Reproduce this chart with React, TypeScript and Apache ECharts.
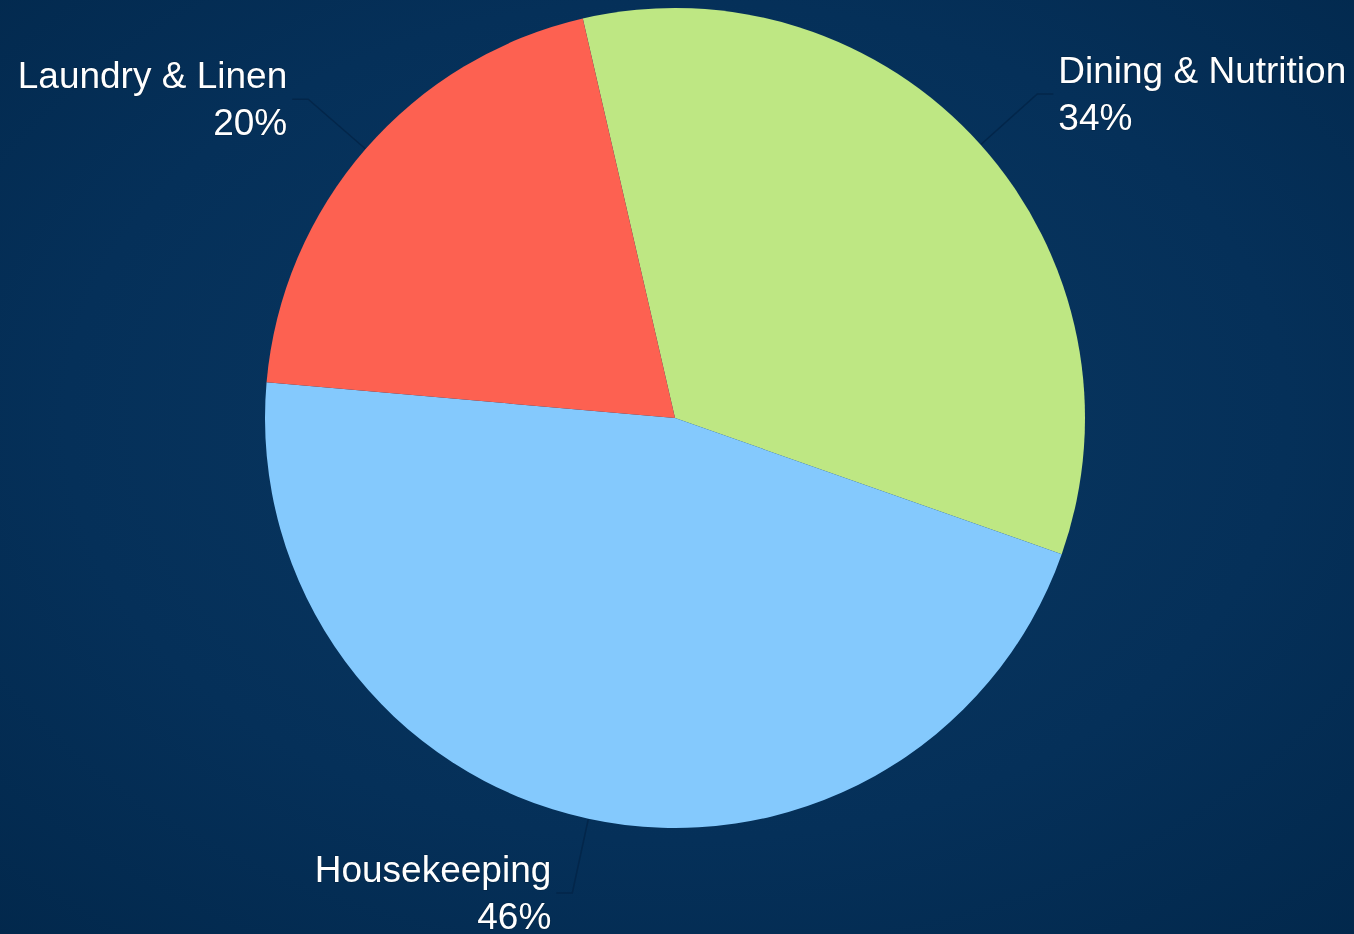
import React, { useEffect, useRef } from "react";
import * as echarts from "echarts";

const categories = ["Dining & Nutrition", "Housekeeping", "Laundry & Linen"];
const values = [34, 46, 20];
const colors = ["#bee783", "#84c9fd", "#fd6151"];

export default function App() {
  const ref = useRef<HTMLDivElement>(null);
  useEffect(() => {
    if (!ref.current) return;
    const chart = echarts.init(ref.current, undefined, { renderer: "svg" });
    chart.setOption({
      animation: false,
      backgroundColor: {
        type: "radial",
        x: 0.5,
        y: 0.45,
        r: 0.75,
        colorStops: [
          { offset: 0, color: "#0a3862" },
          { offset: 0.6, color: "#053059" },
          { offset: 1, color: "#02284c" },
        ],
      },
      series: [
        {
          type: "pie",
          center: [675, 418],
          radius: [0, 410],
          startAngle: 103,
          clockwise: true,
          avoidLabelOverlap: false,
          data: categories.map((name, i) => ({
            name,
            value: values[i],
            itemStyle: { color: colors[i] },
          })),
          label: {
            show: true,
            position: "outside",
            formatter: "{b}\n{d}%",
            color: "#ffffff",
            fontFamily: "Liberation Sans, Arial, sans-serif",
            fontSize: 37,
            lineHeight: 47,
            textBorderColor: "rgba(0,0,0,0.25)",
            textBorderWidth: 1,
          },
          labelLine: {
            show: true,
            length: 76,
            length2: 16,
            lineStyle: { color: "#03264a", width: 1.5 },
          },
          itemStyle: { borderWidth: 0 },
        },
      ],
    });
    return () => chart.dispose();
  }, []);
  return (
    <div
      ref={ref}
      style={{ position: "fixed", left: 0, top: 0, width: 1354, height: 934 }}
    />
  );
}
